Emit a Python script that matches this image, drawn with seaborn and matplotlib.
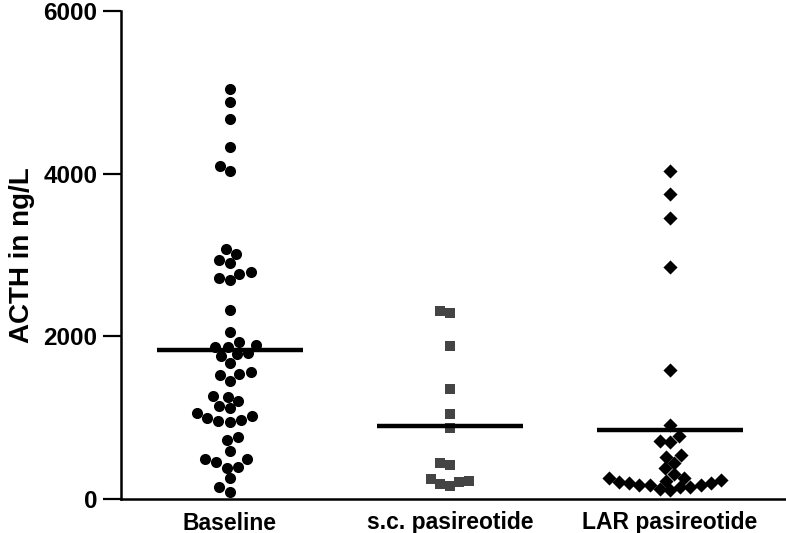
import pandas as pd
import seaborn as sns
import matplotlib.pyplot as plt

# ACTH values (ng/L)
groups = ["Baseline", "s.c. pasireotide", "LAR pasireotide"]

baseline = [5041, 4885, 4669, 4328, 4098, 4033,
            3070, 3016, 2935, 2902, 2791, 2770, 2717, 2689, 2324, 2057,
            1927, 1893, 1873, 1873, 1791, 1779, 1758,
            1668, 1561, 1537, 1525, 1455,
            1266, 1258, 1209, 1143,
            1115, 1054, 1021, 992, 971, 963, 947,
            759, 725, 594,
            492, 492, 451, 397, 385,
            254, 151, 90]

sc_pasireotide = [2312, 2291, 1881, 1349, 1041, 877,
                  447, 418, 242, 221, 213, 181, 164]

lar_pasireotide = [4029, 3754, 3451, 2856, 1586,
                   910, 775, 717, 705, 541, 520, 446, 377, 307,
                   262, 262, 234, 225, 213, 200, 193, 172, 172, 172,
                   151, 151, 123, 111]

yticks = [0, 2000, 4000, 6000]

df = pd.DataFrame({
    "group": ([groups[0]] * len(baseline) + [groups[1]] * len(sc_pasireotide)
              + [groups[2]] * len(lar_pasireotide)),
    "acth": baseline + sc_pasireotide + lar_pasireotide,
})

sns.set_style("ticks")
plt.rcParams['font.family'] = ['Liberation Sans', 'DejaVu Sans']
plt.rcParams['font.weight'] = 'bold'
plt.rcParams['text.color'] = 'black'
plt.rcParams['axes.labelcolor'] = 'black'

fig = plt.figure(figsize=(7.86, 5.33), dpi=100)
ax = fig.add_axes([121 / 786, 1 - 499 / 533, 1 - 121 / 786, 488 / 533])

markers = ["o", "s", "D"]
colors = ["black", "#444444", "black"]
sizes = [8.0, 7.0, 7.2]
for g, m, c, s in zip(groups, markers, colors, sizes):
    sns.swarmplot(data=df[df.group == g], x="group", y="acth", order=groups,
                  marker=m, color=c, size=s, linewidth=0, ax=ax, clip_on=False)

# mean lines
means = df.groupby("group")["acth"].mean()
for i, g in enumerate(groups):
    ax.hlines(means[g], i - 0.33, i + 0.33, color="black", lw=3.2, zorder=5)

ax.set_ylim(0, 6000)
ax.set_xlim(-0.495, 2.527)
ax.set_yticks(yticks)
ax.set_yticklabels([str(t) for t in yticks], fontsize=17.5, fontweight='bold')
ax.set_xticks(range(len(groups)))
ax.set_xticklabels(groups, fontsize=16.5, fontweight='bold')
ax.tick_params(axis='y', length=13, width=1.6, pad=4, colors='black')
ax.tick_params(axis='x', length=0, pad=9, colors='black')
ax.set_xlabel("")
ax.set_ylabel("ACTH in ng/L", fontsize=20, fontweight='bold', labelpad=6,
              color='black')

sns.despine(ax=ax)
for sp in ["left", "bottom"]:
    ax.spines[sp].set_linewidth(1.8)
    ax.spines[sp].set_color("black")

fig.savefig("out.png", dpi=100)
